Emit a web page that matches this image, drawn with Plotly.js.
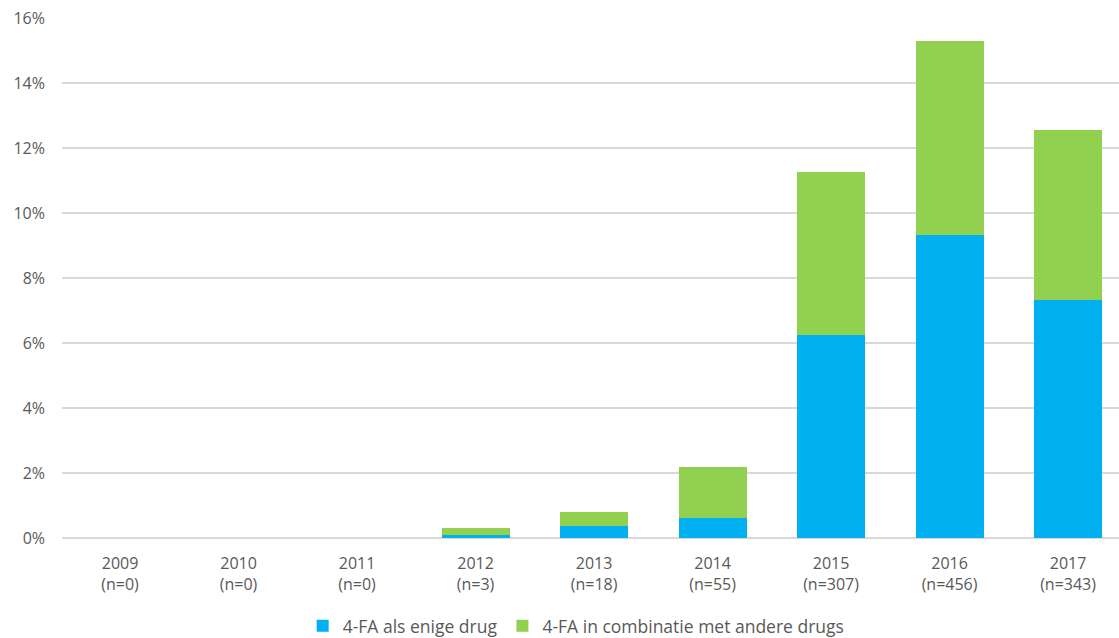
<!DOCTYPE html>
<html><head><meta charset="utf-8">
<script src="https://cdn.plot.ly/plotly-3.0.1.min.js"></script>
<style>html,body{margin:0;padding:0;background:#fff}#chart{width:1119px;height:638px}</style>
</head><body><div id="chart"></div>
<script>
var years = ['2009','2010','2011','2012','2013','2014','2015','2016','2017'];
var counts = [0,0,0,3,18,55,307,456,343];
var alone = [0,0,0,0.09,0.38,0.63,6.25,9.33,7.31];
var combined = [0,0,0,0.21,0.42,1.55,5.00,5.96,5.24];
var seriesNames = ['4-FA als enige drug','4-FA in combinatie met andere drugs'];
var tickVals = [0,2,4,6,8,10,12,14,16];

var cats = years.map(function(y,i){return y+'<br>(n='+counts[i]+')';});
var font = {family:'"Open Sans", "Noto Sans", sans-serif', size:16, color:'#595959'};
var data = [
  {type:'bar', x:cats, y:alone, name:seriesNames[0], marker:{color:'#00B0F0'}},
  {type:'bar', x:cats, y:combined, name:seriesNames[1], marker:{color:'#92D050'}}
];
var layout = {
  width:1119, height:638, barmode:'stack', bargap:0.426,
  margin:{l:62,r:0,t:18,b:100, autoexpand:false},
  paper_bgcolor:'#fff', plot_bgcolor:'#fff',
  font:font,
  xaxis:{type:'category', range:[-0.49,8.43], automargin:false, showgrid:false, zeroline:false, showline:false, ticks:'', ticklabelstandoff:14, tickfont:font},
  yaxis:{range:[0,16], automargin:false, tickvals:tickVals, ticktext:tickVals.map(function(v){return v+'%';}),
         showgrid:true, gridcolor:'#d9d9d9', gridwidth:2, zeroline:true, zerolinecolor:'#d9d9d9', zerolinewidth:2,
         showline:false, ticks:'', ticklabelstandoff:16, tickfont:font},
  showlegend:true,
  legend:{orientation:'h', x:0.2277, xanchor:'left', y:-0.1345, yanchor:'top', font:{family:font.family,size:17.5,color:'#595959'}, itemwidth:30, tracegroupgap:0, traceorder:'normal'}
};
Plotly.newPlot('chart', data, layout, {displayModeBar:false, staticPlot:true});
</script></body></html>
